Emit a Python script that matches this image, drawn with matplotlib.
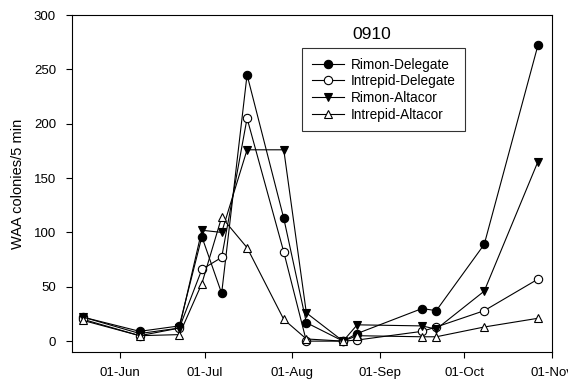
import matplotlib
matplotlib.use("Agg")
import matplotlib.pyplot as plt
import datetime as dt

plt.rcParams['font.family'] = ['Liberation Sans', 'DejaVu Sans']

dates = ["2009-05-19", "2009-06-08", "2009-06-22", "2009-06-30", "2009-07-07",
         "2009-07-16", "2009-07-29", "2009-08-06", "2009-08-19", "2009-08-24",
         "2009-09-16", "2009-09-21", "2009-10-08", "2009-10-27"]
rimon_delegate = [22, 9, 14, 96, 44, 245, 113, 17, 0, 7, 30, 28, 89, 272]
intrepid_delegate = [20, 5, 12, 66, 77, 205, 82, 0, 0, 1, 9, 13, 28, 57]
rimon_altacor = [22, 7, 12, 102, 100, 176, 176, 26, 0, 15, 14, 11, 46, 165]
intrepid_altacor = [19, 5, 6, 53, 114, 86, 20, 2, 0, 5, 4, 4, 13, 21]
month_ticks = ["2009-06-01", "2009-07-01", "2009-08-01", "2009-09-01", "2009-10-01", "2009-11-01"]
month_labels = ["01-Jun", "01-Jul", "01-Aug", "01-Sep", "01-Oct", "01-Nov"]

x = [dt.datetime.strptime(d, "%Y-%m-%d") for d in dates]
xt = [dt.datetime.strptime(d, "%Y-%m-%d") for d in month_ticks]

fig = plt.figure(figsize=(5.68, 3.8), dpi=100)
ax = fig.add_axes([72/568, 1-352/380, (552-72)/568, (352-15)/380])

kw = dict(color='black', lw=0.8, markersize=6, markeredgewidth=0.8)
ax.plot(x, rimon_delegate, marker='o', mfc='black', mec='black', label='Rimon-Delegate', **kw)
ax.plot(x, intrepid_delegate, marker='o', mfc='white', mec='black', label='Intrepid-Delegate', **kw)
ax.plot(x, rimon_altacor, marker='v', mfc='black', mec='black', label='Rimon-Altacor', **kw)
ax.plot(x, intrepid_altacor, marker='^', mfc='white', mec='black', label='Intrepid-Altacor', **kw)

ax.set_xlim(dt.datetime(2009, 5, 15), dt.datetime(2009, 11, 1))
ax.set_ylim(-10, 300)
ax.set_xticks(xt)
ax.set_xticklabels(month_labels)
ax.set_yticks([0, 50, 100, 150, 200, 250, 300])
ax.tick_params(direction='out', labelsize=9.5, length=4.5, width=0.8)
ax.tick_params(axis='y', pad=7)
ax.tick_params(axis='x', pad=6)
for s in ax.spines.values():
    s.set_linewidth(0.8)
ax.set_ylabel("WAA colonies/5 min", fontsize=10.5, va='center')
ax.yaxis.set_label_coords(-(72-18)/480, 0.5)

ax.text((372-72)/480, (352-34.5)/337, "0910", transform=ax.transAxes,
        ha='center', va='center', fontsize=12.5)
leg = ax.legend(loc='upper left', bbox_to_anchor=((302-72)/480, 1-(48-15)/337),
                borderaxespad=0,
                fontsize=9.8, frameon=True, fancybox=False, edgecolor='black',
                borderpad=0.7, handlelength=2.4, labelspacing=0.2, handletextpad=0.5)
leg.get_frame().set_linewidth(0.8)

fig.savefig("out.png", dpi=100)
